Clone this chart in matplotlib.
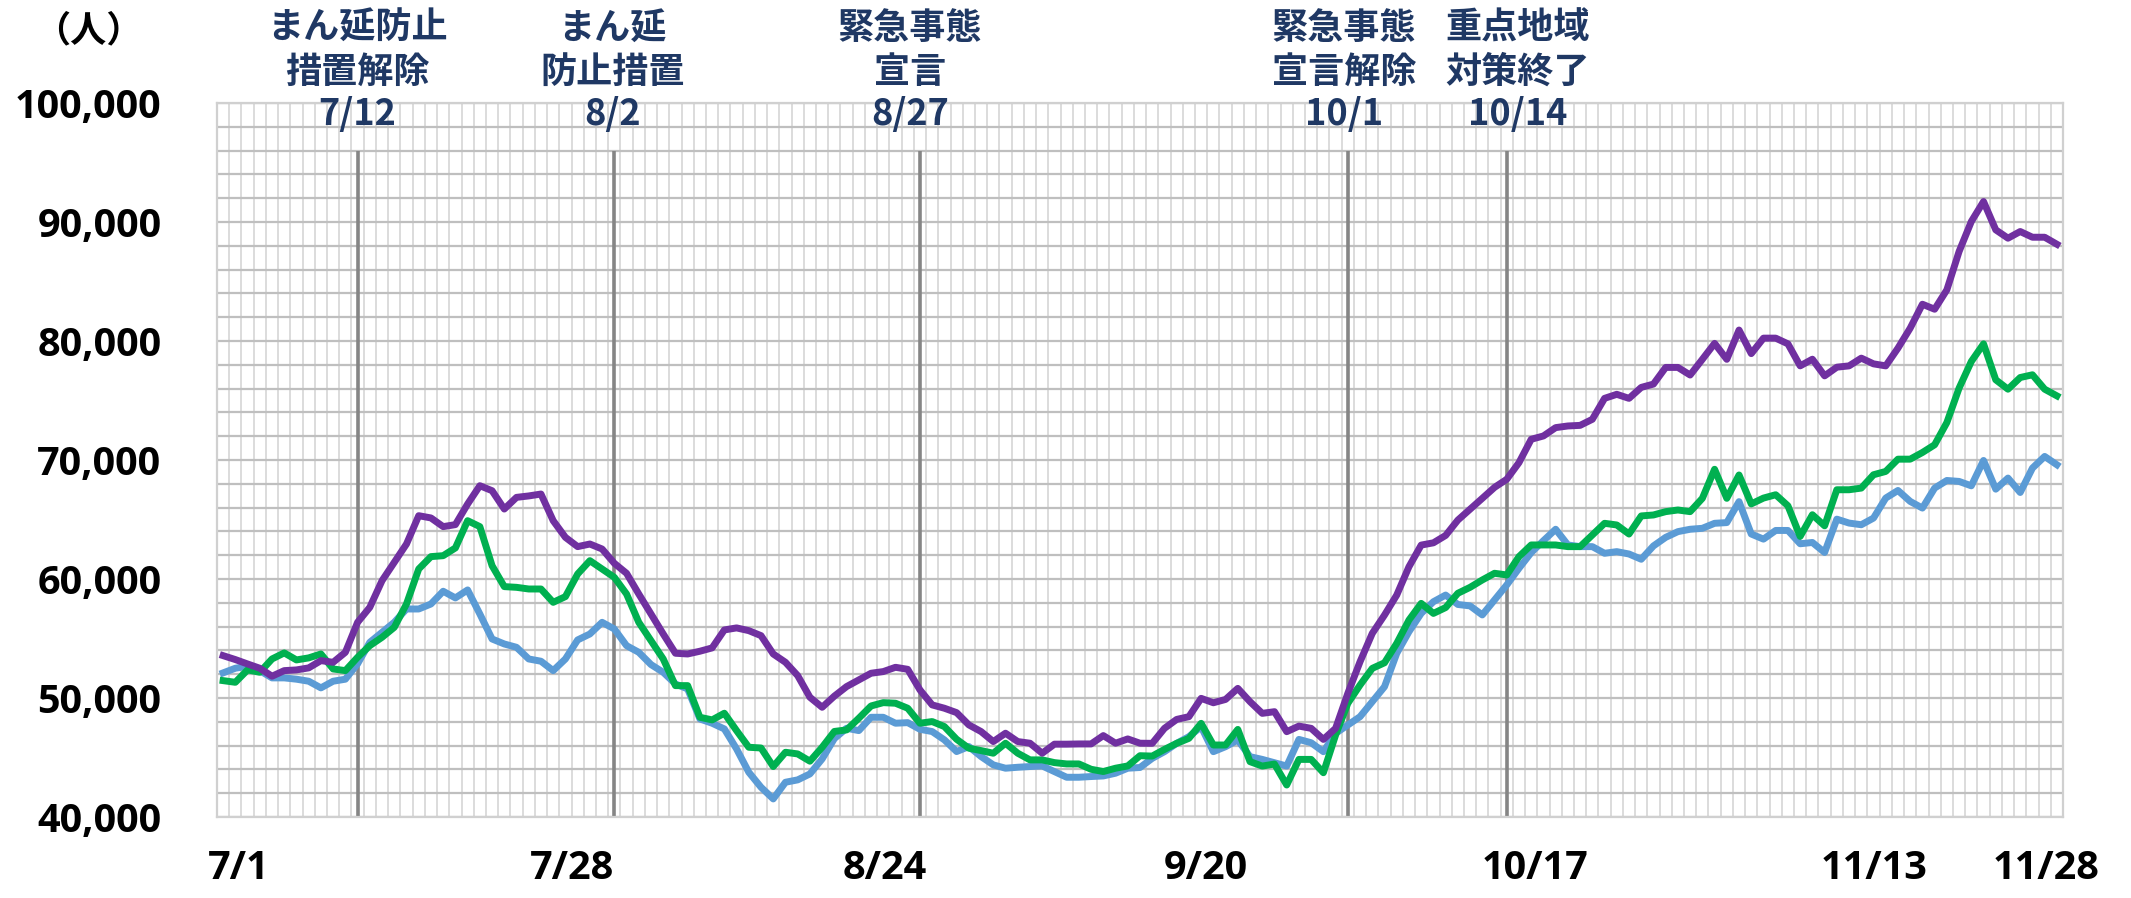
import matplotlib
matplotlib.use("Agg")
import matplotlib.pyplot as plt
import matplotlib.transforms as mtransforms
from matplotlib.ticker import FixedLocator, FuncFormatter, MultipleLocator
import numpy as np

plt.rcParams['font.family'] = ['Noto Sans CJK JP', 'DejaVu Sans']

# ---- data (daily values, 7/1 .. 11/28) ----
purple = [
    53560, 53230, 52860, 52500, 51830, 52300, 52360, 52530, 53140, 53000,
    53840, 56360, 57620, 59860, 61400, 62940, 65320, 65130, 64400, 64570,
    66300, 67840, 67420, 65880, 66860, 66980, 67140, 64900, 63500, 62720,
    62940, 62520, 61320, 60480, 58740, 57060, 55380, 53760, 53700, 53930,
    54210, 55720, 55890, 55660, 55240, 53700, 53000, 51880, 50060, 49220,
    50160, 50960, 51520, 52080, 52220, 52580, 52410, 50680, 49420, 49140,
    48770, 47740, 47180, 46340, 47040, 46340, 46200, 45360, 46120, 46120,
    46140, 46140, 46840, 46200, 46560, 46200, 46190, 47450, 48200, 48430,
    49970, 49600, 49880, 50810, 49690, 48710, 48850, 47170, 47640, 47450,
    46520, 47450, 50390, 53050, 55430, 56970, 58650, 61030, 62850, 63040,
    63660, 64950, 65860, 66780, 67700, 68380, 69780, 71740, 72020, 72720,
    72860, 72910, 73420, 75180, 75520, 75180, 76100, 76380, 77780, 77780,
    77140, 78460, 79800, 78460, 80920, 78940, 80240, 80240, 79760, 77910,
    78470, 77070, 77800, 77910, 78560, 78080, 77910, 79400, 81080, 83090,
    82670, 84300, 87520, 90040, 91720, 89340, 88640, 89200, 88720, 88720,
    88130,
]
green = [
    51460, 51320, 52360, 52160, 53280, 53790, 53200, 53370, 53700, 52440,
    52300, 53420, 54400, 55100, 55940, 57900, 60840, 61880, 61960, 62610,
    64900, 64400, 61120, 59360, 59300, 59160, 59160, 58040, 58520, 60420,
    61540, 60840, 60140, 58740, 56360, 54820, 53280, 51040, 51040, 48380,
    48160, 48720, 47260, 45860, 45800, 44240, 45440, 45300, 44690, 45860,
    47190, 47320, 48300, 49330, 49610, 49560, 49140, 47880, 48020, 47600,
    46530, 45780, 45580, 45360, 46200, 45360, 44800, 44800, 44570, 44460,
    44460, 44010, 43820, 44100, 44290, 45150, 45120, 45680, 46190, 46610,
    47870, 46050, 46050, 47360, 44650, 44280, 44450, 42690, 44840, 44840,
    43720, 46890, 49550, 51090, 52490, 52960, 54590, 56550, 57950, 57110,
    57600, 58800, 59300, 59920, 60480, 60340, 61880, 62860, 62860, 62860,
    62720, 62720, 63700, 64680, 64540, 63780, 65300, 65380, 65660, 65800,
    65660, 66780, 69220, 66780, 68740, 66310, 66800, 67080, 66150, 63580,
    65400, 64470, 67500, 67500, 67640, 68760, 69040, 70070, 70070, 70630,
    71280, 73150, 76040, 78280, 79760, 76740, 75950, 76930, 77160, 75950,
    75390,
]
blue = [
    52110, 52500, 52670, 52300, 51690, 51690, 51580, 51410, 50850, 51410,
    51580, 52870, 54680, 55520, 56360, 57480, 57480, 57900, 58970, 58410,
    59080, 57060, 54960, 54540, 54260, 53280, 53090, 52300, 53280, 54880,
    55380, 56360, 55800, 54400, 53840, 52810, 52160, 51180, 50760, 48240,
    47880, 47400, 45720, 43760, 42500, 41520, 42920, 43120, 43620, 44880,
    46590, 47460, 47260, 48380, 48380, 47880, 47930, 47370, 47180, 46480,
    45500, 45920, 45080, 44380, 44100, 44180, 44240, 44290, 43820, 43340,
    43340, 43400, 43450, 43680, 44100, 44160, 44930, 45490, 46190, 46750,
    47590, 45490, 45910, 46470, 45070, 44840, 44560, 44280, 46520, 46240,
    45490, 47030, 47730, 48430, 49690, 50950, 53750, 55570, 57110, 58090,
    58650, 57860, 57740, 56980, 58240, 59500, 60900, 62220, 63220, 64180,
    62860, 62720, 62720, 62160, 62300, 62100, 61660, 62780, 63500, 63980,
    64180, 64260, 64680, 64740, 66500, 63780, 63350, 64080, 64080, 62960,
    63070, 62230, 65030, 64700, 64560, 65120, 66800, 67440, 66520, 65960,
    67640, 68280, 68200, 67830, 69960, 67550, 68480, 67270, 69320, 70300,
    69600,
]

xtick_days = [0, 27, 54, 81, 108, 135, 150]
xtick_labels = ['7/1', '7/28', '8/24', '9/20', '10/17', '11/13', '11/28']

event_days = [11, 32, 57, 92, 105]
event_line1 = ['まん延防止', 'まん延', '緊急事態', '緊急事態', '重点地域']
event_line2 = ['措置解除', '防止措置', '宣言', '宣言解除', '対策終了']
event_dates = ['7/12', '8/2', '8/27', '10/1', '10/14']
event_top = 96000

# ---- style ----
C_PURPLE = '#7030A0'
C_GREEN = '#00B050'
C_BLUE = '#5B9BD5'
NAVY = '#1F3864'

W, H = 2131, 898
fig = plt.figure(figsize=(W / 100, H / 100), dpi=100)
L, R, T, B = 217, 2063, 103, 817
ax = fig.add_axes([L / W, 1 - B / H, (R - L) / W, (B - T) / H])

n = len(purple)
x = np.arange(n)

ax.set_xlim(-0.5, n - 0.5)
ax.set_ylim(40000, 100000)

# grids
ax.yaxis.set_major_locator(MultipleLocator(10000))
ax.yaxis.set_minor_locator(MultipleLocator(2000))
ax.yaxis.set_major_formatter(FuncFormatter(lambda v, p: f'{int(v):,}'))
ax.xaxis.set_major_locator(FixedLocator(xtick_days))
ax.set_xticklabels(xtick_labels)
ax.xaxis.set_minor_locator(FixedLocator(np.arange(-0.5, n, 1.0)))
ax.set_axisbelow(True)
ax.grid(False)
ax.xaxis.grid(True, which='minor', color='#D9D9D9', lw=1.3)
ax.yaxis.grid(True, which='both', color='#BFBFBF', lw=1.6)
for s in ax.spines.values():
    s.set_color('#D0D0D0')
    s.set_linewidth(1.6)

ax.tick_params(axis='both', which='both', length=0)
ax.tick_params(axis='y', pad=40)
ax.tick_params(axis='x', pad=23)
for lab in ax.get_yticklabels() + ax.get_xticklabels():
    lab.set_fontproperties({'family': ['Open Sans', 'DejaVu Sans'],
                            'weight': 'bold', 'size': 28.5})
    lab.set_color('black')

# per-label horizontal nudges (pixels) to match the original placement
x_label_dx = [16, 19, 1, -8, -8, 1, -11]
for lab, dx in zip(ax.get_xticklabels(), x_label_dx):
    lab.set_transform(lab.get_transform() +
                      mtransforms.ScaledTranslation(dx / 100, 0, fig.dpi_scale_trans))

# event lines
ax.vlines(event_days, 40000, event_top, color='#858585', lw=2.6, zorder=2)

# series
ax.plot(x, blue, color=C_BLUE, lw=5.0, zorder=3, solid_joinstyle='round')
ax.plot(x, green, color=C_GREEN, lw=5.0, zorder=4, solid_joinstyle='round')
ax.plot(x, purple, color=C_PURPLE, lw=5.0, zorder=5, solid_joinstyle='round')

# annotations
trans = mtransforms.blended_transform_factory(ax.transData, fig.transFigure)
x_off = [0, -2, -10, -4, 11]
for d, l1, l2, dt, off in zip(event_days, event_line1, event_line2, event_dates, x_off):
    tr = mtransforms.offset_copy(trans, fig=fig, x=off * 0.72, units='points')
    for txt, ypx in ((l1, 28), (l2, 72), (dt, 115)):
        ax.text(d, 1 - ypx / H, txt, transform=tr, ha='center', va='center',
                fontsize=26, fontweight='bold', color=NAVY, clip_on=False)

fig.text(88 / W, 1 - 31 / H, '（人）', ha='center', va='center', fontsize=26,
         fontweight='bold', color='black')

fig.savefig('out.png', dpi=100)
